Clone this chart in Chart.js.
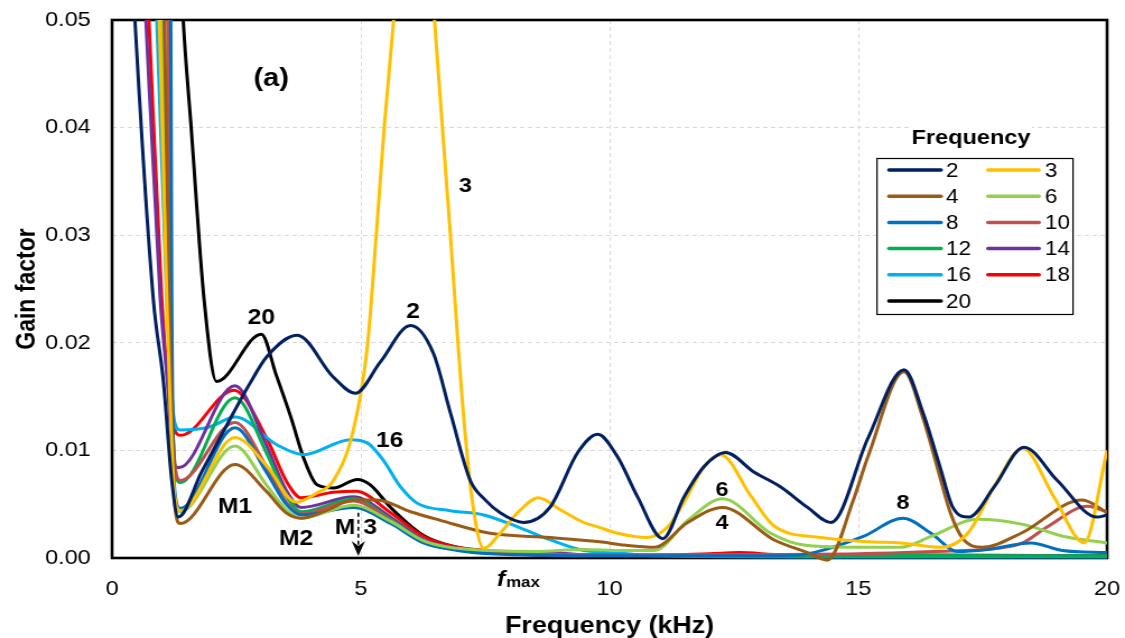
<!DOCTYPE html>
<html><head><meta charset="utf-8">
<script src="https://cdn.jsdelivr.net/npm/chart.js@4.4.1/dist/chart.umd.min.js"></script>
<style>html,body{margin:0;padding:0;background:#fff;overflow:hidden}</style></head>
<body><canvas id="c" width="1004" height="638" style="display:block;width:1125px;height:638px"></canvas>
<script>
// ---------- data (frequency in kHz, gain factor) ----------
const seriesLabels = ['2','3','4','6','8','10','12','14','16','18','20'];
const seriesColors = ['#002060','#FFC000','#9A5B17','#92D050','#0070C0','#C0504D','#00B050','#7030A0','#00B0F0','#FF0000','#000000'];

const f2 = [0.3,0.46,0.83,1.03,1.2,1.33,1.8,2.44,2.78,3.11,3.72,4.45,4.89,5.39,6.0,6.46,6.8,7.2,7.5,7.8,8.27,8.8,9.36,9.76,10.16,10.56,11.07,11.5,11.9,12.33,12.9,13.44,13.98,14.45,15.2,15.92,16.3,16.64,16.9,17.22,17.73,18.33,19.0,19.8,20];
const g2 = [0.065,0.05,0.024,0.0165,0.0072,0.0038,0.008,0.0135,0.0163,0.0187,0.0207,0.0168,0.0153,0.0182,0.0216,0.019,0.0135,0.0072,0.0054,0.0042,0.0033,0.0047,0.0098,0.0115,0.0094,0.0057,0.0018,0.0057,0.0085,0.0098,0.008,0.0066,0.0047,0.0033,0.0112,0.0175,0.0135,0.0085,0.0047,0.0038,0.0066,0.0103,0.0072,0.0038,0.004];

const f3 = [0.8,0.95,1.1,1.26,1.37,2.47,3.12,3.7,4.1,4.45,4.85,5.13,5.31,5.47,5.66,6.07,6.48,6.64,6.8,7.06,7.25,7.47,7.8,8.15,8.57,9.0,9.48,9.76,10.16,10.76,11.17,11.5,11.9,12.23,12.85,13.3,14.25,15.25,15.85,16.66,17.2,17.8,18.3,18.93,19.54,20];
const g3 = [0.065,0.05,0.024,0.0056,0.0044,0.0112,0.0085,0.0052,0.006,0.0072,0.0119,0.0196,0.03,0.04,0.05,0.075,0.05,0.04,0.03,0.0135,0.005,0.0009,0.0023,0.0042,0.0056,0.0045,0.0033,0.0029,0.0023,0.0019,0.0029,0.0052,0.0085,0.0096,0.0057,0.003,0.0019,0.0015,0.0014,0.001,0.0023,0.0072,0.0102,0.0057,0.0014,0.01];

const f4 = [0.9,1.05,1.15,1.27,1.37,2.47,3.1,3.5,3.8,4.3,4.85,5.33,6.0,6.6,7.6,8.8,9.8,10.3,10.9,11.57,12.27,13.3,13.98,14.38,14.9,15.2,15.92,16.3,16.6,16.85,17.1,17.5,18.27,19.5,20];
const g4 = [0.065,0.05,0.024,0.0045,0.0032,0.0087,0.0062,0.0042,0.0037,0.0044,0.0054,0.0054,0.0043,0.0035,0.0023,0.0019,0.0015,0.0012,0.001,0.0033,0.0047,0.0017,0.0005,-0.0002,0.0054,0.0095,0.0173,0.013,0.0082,0.0042,0.0018,0.001,0.0023,0.0054,0.0042];

const f6 = [0.85,1.0,1.13,1.26,1.37,2.47,3.1,3.5,3.8,4.85,5.6,6.26,6.94,7.6,8.5,9.48,10.22,10.9,11.57,12.27,13.24,13.9,14.9,15.85,16.46,17.4,18.33,19.13,20];
const g6 = [0.065,0.05,0.024,0.0055,0.0043,0.0104,0.0068,0.0045,0.0037,0.0049,0.0034,0.0016,0.0009,0.0007,0.0006,0.0008,0.0007,0.0007,0.0035,0.0055,0.0023,0.0012,0.001,0.001,0.002,0.0036,0.0031,0.002,0.0014];

const f8 = [1.03,1.18,1.2,1.27,1.37,2.47,3.1,3.5,3.8,4.85,5.6,6.26,6.94,7.6,10,13.5,14.1,15.1,15.9,16.46,17.0,17.6,18.47,19.1,20];
const g8 = [0.065,0.05,0.024,0.0058,0.0046,0.0121,0.008,0.005,0.004,0.0047,0.0032,0.0014,0.0007,0.0004,0.0002,0.0002,0.0005,0.002,0.0037,0.0023,0.0006,0.0008,0.0014,0.0007,0.0005];

const f10 = [0.97,1.12,1.17,1.27,1.37,2.47,3.1,3.5,3.8,4.85,5.6,6.26,6.94,7.6,10,15,16.5,17.8,18.3,18.8,19.6,20];
const g10 = [0.065,0.05,0.024,0.0083,0.0072,0.0126,0.0085,0.0052,0.0041,0.0053,0.0035,0.0015,0.0008,0.0005,0.0003,0.0004,0.0006,0.0009,0.0014,0.0029,0.0048,0.0043];

const f12 = [0.89,1.04,1.14,1.27,1.37,2.47,3.1,3.5,3.8,4.85,5.6,6.26,6.94,7.6,9,20];
const g12 = [0.065,0.05,0.024,0.0082,0.007,0.0149,0.0098,0.0058,0.0043,0.0055,0.0036,0.0016,0.0008,0.0005,0.0003,0.0002];

const f14 = [0.53,0.68,0.97,1.11,1.23,1.35,2.47,3.1,3.5,3.8,4.85,5.6,6.26,6.94,7.6,8.5,9.5,12,20];
const g14 = [0.065,0.05,0.024,0.0165,0.009,0.0084,0.016,0.0105,0.0063,0.0047,0.0057,0.0038,0.0017,0.0009,0.0006,0.0006,0.0003,0.0002,0.0002];

const f16 = [0.75,0.9,1.1,1.25,1.37,1.97,2.47,3.32,3.85,4.79,5.13,5.45,5.8,6.13,6.8,7.47,8.15,8.8,9.48,10.16,10.8,14,20];
const g16 = [0.065,0.05,0.024,0.0128,0.0119,0.0122,0.0131,0.0105,0.0096,0.011,0.0107,0.0091,0.0066,0.0051,0.0044,0.004,0.0029,0.0017,0.0007,0.0005,0.0002,0.0001,0.0001];

const f18 = [0.59,0.74,1.0,1.12,1.24,1.38,2.45,3.1,3.52,3.8,4.45,4.9,5.6,6.26,6.94,7.6,8.5,10,12,12.6,13.5,16,20];
const g18 = [0.065,0.05,0.024,0.0165,0.0122,0.0114,0.0156,0.0112,0.007,0.0056,0.0061,0.0062,0.0042,0.002,0.001,0.0007,0.0003,0.0002,0.0004,0.0005,0.0003,0.0003,0.0002];

const f20 = [1.28,1.43,1.59,1.85,2.1,3.0,3.3,3.6,3.85,4.12,4.45,4.93,5.19,5.6,6.26,6.94,7.6,9,12,18];
const g20 = [0.065,0.05,0.04,0.024,0.0164,0.0208,0.017,0.013,0.0093,0.0068,0.0065,0.0073,0.0068,0.0047,0.0021,0.001,0.0006,0.0002,0.0002,0.0002];

const xTicks = [0,5,10,15,20];
const yTicks = [0,0.01,0.02,0.03,0.04,0.05];

// annotation texts placed in data coordinates
const noteText = ['(a)','3','20','2','16','M1','M2','M','3','6','4','8'];
const noteX    = [3.2,7.1,3.0,6.05,5.58,2.47,3.70,4.68,5.19,12.26,12.26,15.9];
const noteY    = [0.0445,0.0346,0.0223,0.0229,0.0109,0.0047,0.0018,0.0028,0.0028,0.0063,0.0032,0.0051];
const noteSize = [26,21,22,22,22,22,22,22,22,21,21,21];

// ---------- chart ----------
const FONT = '"Liberation Sans", Arial, Helvetica, sans-serif';
const SX = 1004/1125; // canvas units per screen pixel (picture is horizontally stretched)

const fx = [f2,f3,f4,f6,f8,f10,f12,f14,f16,f18,f20];
const gy = [g2,g3,g4,g6,g8,g10,g12,g14,g16,g18,g20];
const datasets = seriesLabels.map((lab,i)=>({
  label: lab,
  data: fx[i].map((x,k)=>({x:x, y:gy[i][k]})),
  borderColor: seriesColors[i],
  backgroundColor: seriesColors[i],
  borderWidth: 3,
  pointRadius: 0,
  fill: false,
  cubicInterpolationMode: 'monotone',
  clip: {left:0, top:0, right:0, bottom:5}
}));

const framePlugin = {
  id:'frame',
  beforeDatasetsDraw(chart){
    const {ctx, chartArea:a} = chart;
    ctx.save();
    ctx.setLineDash([]);
    ctx.strokeStyle = '#000';
    ctx.lineWidth = 2.6;
    ctx.strokeRect(a.left, a.top, a.right-a.left, a.bottom-a.top);
    ctx.restore();
  }
};

const notePlugin = {
  id:'notes',
  afterDatasetsDraw(chart){
    const {ctx, chartArea:a, scales:{x,y}} = chart;
    ctx.save();
    ctx.fillStyle = '#000';
    ctx.textAlign = 'center';
    ctx.textBaseline = 'middle';
    noteText.forEach((t,i)=>{
      ctx.font = `bold ${noteSize[i]}px ${FONT}`;
      ctx.fillText(t, x.getPixelForValue(noteX[i]), y.getPixelForValue(noteY[i]));
    });
    // dashed arrow at M3
    const ax = x.getPixelForValue(4.95);
    ctx.strokeStyle = '#000';
    ctx.lineWidth = 1.6;
    ctx.setLineDash([4,3]);
    ctx.beginPath();
    ctx.moveTo(ax, y.getPixelForValue(0.0042));
    ctx.lineTo(ax, a.bottom-12);
    ctx.stroke();
    ctx.setLineDash([]);
    ctx.beginPath();
    ctx.moveTo(ax-6, a.bottom-17);
    ctx.lineTo(ax, a.bottom-2);
    ctx.lineTo(ax+6, a.bottom-17);
    ctx.lineTo(ax, a.bottom-12);
    ctx.closePath();
    ctx.fill();
    // f_max label under the axis
    const fxp = x.getPixelForValue(7.9);
    ctx.textBaseline = 'alphabetic';
    ctx.textAlign = 'right';
    ctx.font = `italic bold 22px ${FONT}`;
    ctx.fillText('f', fxp, a.bottom+28);
    ctx.textAlign = 'left';
    ctx.font = `bold 15px ${FONT}`;
    ctx.fillText('max', fxp+1, a.bottom+29);
    ctx.restore();
  }
};

const legendPlugin = {
  id:'boxLegend',
  afterDraw(chart){
    const ctx = chart.ctx;
    ctx.save();
    ctx.setLineDash([]);
    ctx.fillStyle = '#fff';
    ctx.fillRect(910*SX, 125, 122*SX, 25);
    ctx.fillStyle = '#000';
    ctx.font = `bold 21px ${FONT}`;
    ctx.textAlign = 'center';
    ctx.textBaseline = 'middle';
    ctx.fillText('Frequency', 971*SX, 138);
    const bx = 877*SX, by = 158, bw = (1073-877)*SX, bh = 156;
    ctx.fillStyle = '#fff';
    ctx.fillRect(bx, by, bw, bh);
    ctx.strokeStyle = '#000';
    ctx.lineWidth = 1.2;
    ctx.strokeRect(bx, by+0.5, bw, bh);
    ctx.lineCap = 'round';
    chart.data.datasets.forEach((ds,i)=>{
      const col = i%2, row = Math.floor(i/2);
      const yy = 170 + row*26.2;
      const x0 = (col?988:889)*SX, x1 = (col?1039:941)*SX, tx = (col?1045:946)*SX;
      ctx.strokeStyle = ds.borderColor;
      ctx.lineWidth = 3.5;
      ctx.beginPath(); ctx.moveTo(x0,yy); ctx.lineTo(x1,yy); ctx.stroke();
      ctx.fillStyle = '#000';
      ctx.font = `20px ${FONT}`;
      ctx.textAlign = 'left';
      ctx.fillText(ds.label, tx, yy+1);
    });
    ctx.restore();
  }
};

new Chart(document.getElementById('c'), {
  type:'line',
  data:{ datasets: datasets },
  options:{
    responsive:false,
    animation:false,
    devicePixelRatio:1,
    layout:{ padding:{ left:0, right:16, top:20, bottom:0 } },
    plugins:{ legend:{display:false}, tooltip:{enabled:false} },
    scales:{
      x:{
        type:'linear', min:0, max:20,
        afterBuildTicks(s){ s.ticks = xTicks.map(v=>({value:v})); },
        afterFit(s){ s.height = 80; s.paddingLeft = 0; s.paddingRight = 0; },
        grid:{ color:'#d9d9d9', lineWidth:1, drawTicks:false },
        border:{ display:false, dash:[4,3] },
        ticks:{ padding:19, color:'#000', font:{family:FONT, size:21}, callback:v=>String(v) },
        title:{ display:true, text:'Frequency (kHz)', color:'#000', font:{family:FONT, size:24, weight:'bold', lineHeight:1.0}, padding:{top:0,bottom:0} }
      },
      y:{
        type:'linear', min:0, max:0.05,
        afterBuildTicks(s){ s.ticks = yTicks.map(v=>({value:v})); },
        afterFit(s){ s.width = 100; s.paddingTop = 0; s.paddingBottom = 0; },
        grid:{ color:'#d9d9d9', lineWidth:1, drawTicks:false },
        border:{ display:false, dash:[4,3] },
        ticks:{ padding:19, color:'#000', font:{family:FONT, size:21}, callback:v=>v.toFixed(2) },
        title:{ display:true, text:'Gain factor', color:'#000', font:{family:FONT, size:23, weight:'bold', lineHeight:1.2}, padding:{top:11,bottom:0} }
      }
    }
  },
  plugins:[framePlugin, notePlugin, legendPlugin]
});
</script>
</body></html>
